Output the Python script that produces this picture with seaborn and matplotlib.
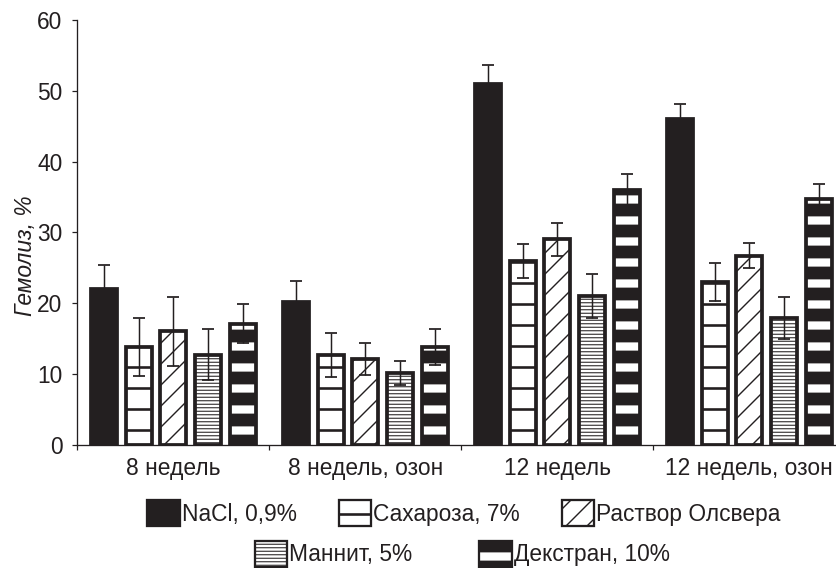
import matplotlib
matplotlib.use("Agg")
import matplotlib.pyplot as plt
import matplotlib.colors as mcolors
import numpy as np
import pandas as pd
import seaborn as sns

# --- data -------------------------------------------------------------
periods = ["8 недель", "8 недель, озон", "12 недель", "12 недель, озон"]
solutions = ["NaCl, 0,9%", "Сахароза, 7%", "Раствор Олсвера", "Маннит, 5%", "Декстран, 10%"]

nacl = [22.0, 20.2, 50.9, 46.0]
sucrose = [13.8, 12.7, 25.9, 23.0]
olsver = [16.0, 12.1, 29.0, 26.7]
mannit = [12.7, 10.1, 21.0, 17.9]
dextran = [17.1, 13.8, 36.0, 34.7]

nacl_err = [3.4, 2.9, 2.8, 2.1]
sucrose_err = [4.1, 3.1, 2.4, 2.7]
olsver_err = [4.9, 2.3, 2.3, 1.8]
mannit_err = [3.6, 1.7, 3.1, 2.9]
dextran_err = [2.8, 2.6, 2.3, 2.2]

y_ticks = [0, 10, 20, 30, 40, 50, 60]
y_label = "Гемолиз, %"

values = [nacl, sucrose, olsver, mannit, dextran]
errors = [nacl_err, sucrose_err, olsver_err, mannit_err, dextran_err]

df = pd.DataFrame({
    "period": [p for _ in solutions for p in periods],
    "solution": [s for s in solutions for _ in periods],
    "value": [v for series in values for v in series],
})

# --- style ------------------------------------------------------------
INK = "#231f20"
DPI = 126
FS = 13
sns.set_theme(style="white")
plt.rcParams["font.family"] = ["Liberation Sans", "DejaVu Sans"]
plt.rcParams["font.size"] = FS

# hatch pattern, hatch colour, hatch line width (pt) per solution
bar_styles = [
    ("", INK, 1.0),
    ("-", INK, 1.5),
    ("//", INK, 0.8),
    ("------", INK, 0.6),
    ("-", "white", 4.7),
]
face_colors = [INK, "white", "white", "white", INK]


def style_patch(p, hatch, hcolor, hlw):
    p.set_hatch(hatch)
    p._hatch_color = mcolors.to_rgba(hcolor)
    if hasattr(p, "set_hatch_linewidth"):
        p.set_hatch_linewidth(hlw)
    else:
        p._hatch_linewidth = hlw


fig = plt.figure(figsize=(836 / DPI, 568 / DPI), dpi=DPI)
ax = fig.add_axes([77.3 / 836, 1 - 444.7 / 568, 768 / 836, 424.7 / 568])

sns.barplot(
    data=df, x="period", y="value", hue="solution",
    order=periods, hue_order=solutions, palette=face_colors,
    width=0.9036, gap=0.245, errorbar=None, legend=False,
    edgecolor=INK, linewidth=2.15, saturation=1, ax=ax,
)

for cont, (hatch, hcol, hlw), errs in zip(ax.containers, bar_styles, errors):
    xs, hs = [], []
    for bar in cont:
        style_patch(bar, hatch, hcol, hlw)
        xs.append(bar.get_x() + bar.get_width() / 2)
        hs.append(bar.get_height())
    ax.errorbar(xs, hs, yerr=errs, fmt="none", ecolor=INK,
                elinewidth=0.85, capsize=3.4, capthick=1.0, zorder=5)

# --- axes -------------------------------------------------------------
ax.set_ylim(0, 60)
ax.set_xlim(-0.5, 3.5)
ax.set_yticks(y_ticks)
ax.set_xticks(range(len(periods)))
ax.set_xticklabels(periods)
ax.set_xticks(np.arange(-0.5, 4.0, 1.0), minor=True)
ax.set_xlabel("")
ax.set_ylabel(y_label, fontstyle="italic", fontsize=FS, color=INK)
ax.yaxis.set_label_coords(-0.052, 0.444)

for side in ("top", "right"):
    ax.spines[side].set_visible(False)
for side in ("left", "bottom"):
    ax.spines[side].set_color(INK)
    ax.spines[side].set_linewidth(0.75)

ax.tick_params(axis="y", which="major", direction="out", length=2.9, width=0.7,
               color=INK, pad=5.5, labelsize=FS, labelcolor=INK, left=True)
ax.tick_params(axis="x", which="major", length=0, pad=7.0, labelsize=FS,
               labelcolor=INK)
ax.tick_params(axis="x", which="minor", direction="out", length=2.9, width=0.7,
               color=INK, bottom=True)

# --- legend in two centred rows ----------------------------------------
handles = [cont[0] for cont in ax.containers]
leg_kw = dict(frameon=False, fontsize=FS, handlelength=1.41, handleheight=1.41,
              handletextpad=0.1, borderpad=0,
              borderaxespad=0, loc="center", bbox_transform=fig.transFigure)

leg1 = ax.legend(handles[:3], solutions[:3], ncols=3, columnspacing=1.85,
                 bbox_to_anchor=(0.555, 0.0968), **leg_kw)
ax.add_artist(leg1)
leg2 = ax.legend(handles[3:], solutions[3:], ncols=2, columnspacing=2.95,
                 bbox_to_anchor=(0.553, 0.025), **leg_kw)

for leg, idx in ((leg1, range(0, 3)), (leg2, range(3, 5))):
    for patch, i in zip(leg.get_patches(), idx):
        hatch, hcol, hlw = bar_styles[i]
        patch.set_linewidth(1.3)
        patch.set_edgecolor(INK)
        patch.set_facecolor(face_colors[i])
        style_patch(patch, hatch, hcol, hlw)
    for t in leg.get_texts():
        t.set_color(INK)

fig.savefig("out.png", dpi=DPI)
